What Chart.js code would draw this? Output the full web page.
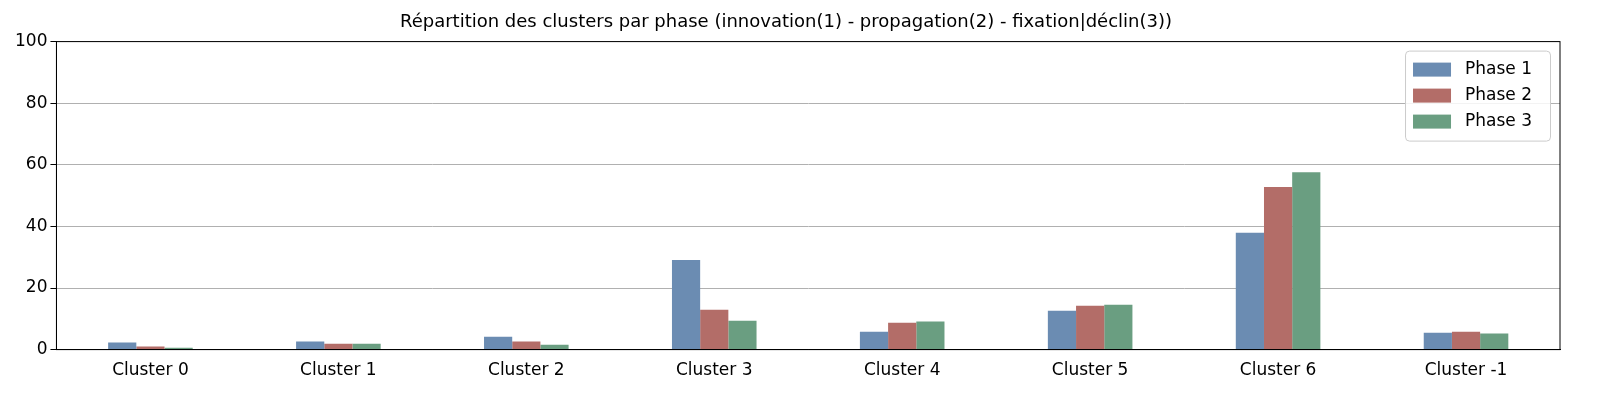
<!DOCTYPE html>
<html>
<head>
<meta charset="utf-8">
<script src="https://cdn.jsdelivr.net/npm/chart.js@4"></script>
<style>
  html, body { margin: 0; padding: 0; background: #fff; }
  #wrap { width: 1600px; height: 400px; }
</style>
</head>
<body>
<div id="wrap"><canvas id="chart" width="1600" height="400"></canvas></div>
<script>
const categories = ['Cluster 0', 'Cluster 1', 'Cluster 2', 'Cluster 3', 'Cluster 4', 'Cluster 5', 'Cluster 6', 'Cluster -1'];
const phase1 = [2.3, 2.6, 4.2, 29.1, 5.8, 12.6, 37.9, 5.5];
const phase2 = [1.0, 1.9, 2.6, 12.9, 8.7, 14.2, 52.8, 5.8];
const phase3 = [0.6, 1.9, 1.6, 9.4, 9.1, 14.6, 57.6, 5.2];
const yTicks = [0, 20, 40, 60, 80, 100];

Chart.defaults.font.family = "'DejaVu Sans', sans-serif";
Chart.defaults.color = '#000';

// matplotlib-style legend drawn inside the plot, upper right
const innerLegend = {
  id: 'innerLegend',
  afterDraw(chart) {
    const a = chart.chartArea, ctx = chart.ctx;
    const sets = chart.data.datasets;
    ctx.save();
    ctx.font = "17px 'DejaVu Sans', sans-serif";
    const textW = Math.max(...sets.map(d => ctx.measureText(d.label).width));
    const w = 14 + 38 + 14 + textW + 12, rowH = 26, h = sets.length * rowH + 12;
    const x = a.right - 10 - w, y = a.top + 9;
    ctx.fillStyle = 'rgba(255,255,255,0.85)';
    ctx.strokeStyle = '#ccc';
    ctx.beginPath();
    ctx.roundRect(x + 0.5, y + 0.5, w, h, 4);
    ctx.fill(); ctx.stroke();
    ctx.textBaseline = 'middle';
    sets.forEach((d, i) => {
      const cy = y + 6 + rowH * i + rowH / 2;
      ctx.fillStyle = d.backgroundColor;
      ctx.fillRect(x + 8, cy - 7, 38, 14);
      ctx.fillStyle = '#000';
      ctx.fillText(d.label, x + 60, cy);
    });
    ctx.restore();
  }
};

const frame = {
  id: 'frame',
  afterDraw(chart) {
    const a = chart.chartArea, ctx = chart.ctx;
    ctx.save(); ctx.strokeStyle = '#000'; ctx.lineWidth = 1;
    ctx.strokeRect(a.left, a.top, a.right - a.left, a.bottom - a.top);
    ctx.restore();
  }
};

const ds = (label, data, color) => ({
  label, data, backgroundColor: color, borderWidth: 0,
  barPercentage: 1, categoryPercentage: 0.45
});

new Chart(document.getElementById('chart'), {
  type: 'bar',
  data: {
    labels: categories,
    datasets: [
      ds('Phase 1', phase1, '#6b8cb2'),
      ds('Phase 2', phase2, '#b36d68'),
      ds('Phase 3', phase3, '#6a9e81')
    ]
  },
  options: {
    responsive: false,
    animation: false,
    layout: { padding: { left: 12, right: 40, top: 0, bottom: 16 } },
    plugins: {
      title: { display: true, text: 'Répartition des clusters par phase (innovation(1) - propagation(2) - fixation|déclin(3))',
               font: { size: 18, weight: 'normal' }, padding: { top: 12, bottom: 8 } },
      legend: { display: false },
      tooltip: { enabled: false }
    },
    scales: {
      x: {
        grid: { display: false },
        border: { color: '#000' },
        ticks: { font: { size: 17 } }
      },
      y: {
        min: 0, max: 100,
        afterBuildTicks: (s) => { s.ticks = yTicks.map(v => ({ value: v })); },
        grid: { color: '#b0b0b0', tickColor: '#000', tickLength: 6 },
        border: { color: '#000' },
        ticks: { font: { size: 17 } }
      }
    }
  },
  plugins: [innerLegend, frame]
});
</script>
</body>
</html>
